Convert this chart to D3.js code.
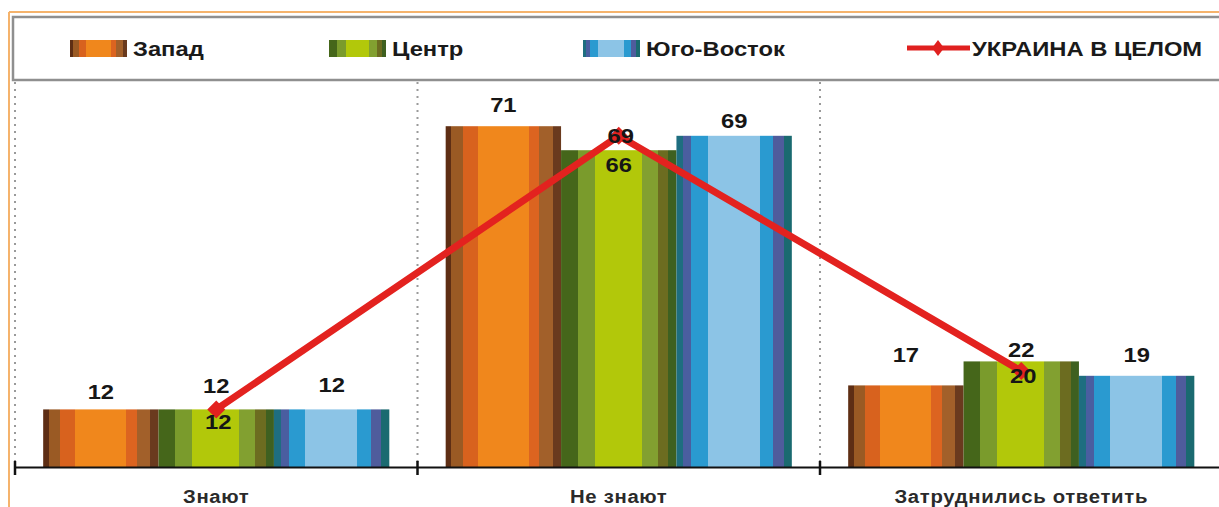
<!DOCTYPE html>
<html><head><meta charset="utf-8">
<script src="https://cdn.jsdelivr.net/npm/d3@7/dist/d3.min.js"></script>
<style>
html,body{margin:0;padding:0;background:#fff;}
svg{display:block;}
text{font-family:"Liberation Sans",Arial,sans-serif;font-weight:bold;}
</style></head>
<body>
<svg id="c" width="1219" height="507"></svg>
<script>
// ---- data ----
const categories = ["Знают", "Не знают", "Затруднились ответить"];
const seriesNames = ["Запад", "Центр", "Юго-Восток"];
const zapad = [12, 71, 17];
const centr = [12, 66, 22];
const yugVostok = [12, 69, 19];
const lineName = "УКРАИНА В ЦЕЛОМ";
const ukraine = [12, 69, 20];

// ---- layout / style (not data) ----
const stripes = {
  "Запад": [[0,"#5e2e14"],[0.05,"#9a5a24"],[0.15,"#d8621e"],[0.28,"#f0871c"],[0.72,"#dc6420"],[0.81,"#a2602a"],[0.93,"#6a3a1e"]],
  "Центр": [[0,"#45661a"],[0.145,"#7a9b2c"],[0.29,"#b2c80a"],[0.70,"#82a030"],[0.84,"#6c6c20"],[0.93,"#3e6020"]],
  "Юго-Восток": [[0,"#1e6e80"],[0.06,"#4a5ea0"],[0.13,"#2a9ad0"],[0.27,"#8cc4e6"],[0.72,"#2a9ad0"],[0.84,"#4f5c9c"],[0.93,"#1a6a70"]]
};
// manual label nudges (px, relative to default position)
const barLabelNudge = {"Запад":[3,-1,-10], "Центр":[-3,35,9], "Юго-Восток":[-4,5,-1]};
const lineLabelNudge = [13, 0, 5];
const SX = 1.16; // horizontal text stretch of the original

const svg = d3.select("#c");
const defs = svg.append("defs");
seriesNames.forEach((s,i)=>{
  const g = defs.append("linearGradient").attr("id","g"+i).attr("x1","0").attr("x2","1").attr("y1","0").attr("y2","0");
  const st = stripes[s];
  st.forEach((d,j)=>{
    const end = j<st.length-1 ? st[j+1][0] : 1;
    g.append("stop").attr("offset",d[0]).attr("stop-color",d[1]);
    g.append("stop").attr("offset",end).attr("stop-color",d[1]);
  });
});

// frame
svg.append("line").attr("x1",9).attr("x2",1219).attr("y1",12).attr("y2",12).attr("stroke","#f5b36c").attr("stroke-width",2);
svg.append("line").attr("x1",9).attr("x2",9).attr("y1",12).attr("y2",507).attr("stroke","#f5b36c").attr("stroke-width",2);
// legend box
svg.append("rect").attr("x",13).attr("y",17).attr("width",1230).attr("height",63)
  .attr("fill","#fff").attr("stroke","#8f8f8f").attr("stroke-width",2.5);

function stext(sel, x, y, str, size, color, anchor){
  return sel.append("text").attr("transform",`translate(${x},${y}) scale(${SX},1)`)
    .attr("text-anchor",anchor||"middle").attr("font-size",size).attr("fill",color||"#111").text(str);
}

// legend
const legX = [70, 329, 583];
seriesNames.forEach((s,i)=>{
  svg.append("rect").attr("x",legX[i]).attr("y",40).attr("width",57).attr("height",17).attr("fill",`url(#g${i})`);
  stext(svg, legX[i]+63, 56, s, 20.5, "#1a1a1a", "start");
});
svg.append("line").attr("x1",907).attr("x2",970).attr("y1",48).attr("y2",48).attr("stroke","#e0201f").attr("stroke-width",5);
svg.append("path").attr("d","M938,40 L944,48 L938,56 L932,48Z").attr("fill","#e0201f");
stext(svg, 972, 56, lineName, 20.5, "#1a1a1a", "start");

// scales
const baseY = 467;
const x0 = d3.scaleBand().domain(categories).range([15, 1222.5]).padding(0);
const x1 = d3.scaleBand().domain(seriesNames).range([x0.bandwidth()*0.07, x0.bandwidth()*0.93]).padding(0);
const y = d3.scaleLinear().domain([0, 80]).range([baseY, 83]);

// dotted separators & ticks
const seps = categories.map(c=>x0(c));
svg.selectAll(".sep").data(seps).join("line").attr("class","sep")
  .attr("x1",d=>d).attr("x2",d=>d).attr("y1",82).attr("y2",baseY-4)
  .attr("stroke","#9a9a9a").attr("stroke-width",2).attr("stroke-dasharray","2,5");

// bars
const seriesVals = [zapad, centr, yugVostok];
const gBars = svg.append("g");
seriesNames.forEach((s,i)=>{
  gBars.selectAll(".b"+i).data(categories).join("rect")
    .attr("x",c=>x0(c)+x1(s)).attr("width",x1.bandwidth())
    .attr("y",(c,k)=>y(seriesVals[i][k])).attr("height",(c,k)=>baseY-y(seriesVals[i][k]))
    .attr("fill",`url(#g${i})`);
});

// axis
const axis = d3.axisBottom(d3.scaleLinear().domain([0,1]).range([15,1219])).tickValues([]).tickSizeOuter(0);
const ga = svg.append("g").attr("transform",`translate(0,${baseY})`).call(axis);
ga.select(".domain").attr("stroke","#111").attr("stroke-width",2);
svg.selectAll(".tk").data(seps).join("line").attr("class","tk")
  .attr("x1",d=>d).attr("x2",d=>d).attr("y1",baseY-6).attr("y2",baseY+8)
  .attr("stroke","#111").attr("stroke-width",2.5);

// category labels
categories.forEach(c=>{
  stext(svg, x0(c)+x0.bandwidth()/2, 503, c, 17.5, "#2a2a2a").attr("letter-spacing",0.6);
});

// line
const lx = c=>x0(c)+x0.bandwidth()/2;
const lineGen = d3.line().x((d,i)=>lx(categories[i])).y(d=>y(d));
svg.append("path").datum(ukraine).attr("d",lineGen).attr("fill","none")
  .attr("stroke","#e3221f").attr("stroke-width",7).attr("stroke-linejoin","miter").attr("stroke-miterlimit",10);
svg.selectAll(".mk").data(ukraine).join("path").attr("class","mk")
  .attr("transform",(d,i)=>`translate(${lx(categories[i])},${y(d)})`)
  .attr("d","M0,-9 L9,0 L0,9 L-9,0Z").attr("fill","#e3221f");

// bar labels
seriesNames.forEach((s,i)=>{
  categories.forEach((c,k)=>{
    const v = seriesVals[i][k];
    stext(svg, x0(c)+x1(s)+x1.bandwidth()/2, y(v)-20+7+barLabelNudge[s][k], v, 20.5, "#161616");
  });
});
// line labels
ukraine.forEach((v,k)=>{
  stext(svg, lx(categories[k])+2, y(v)+7+lineLabelNudge[k], v, 20.5, "#161616");
});
</script>
</body></html>
